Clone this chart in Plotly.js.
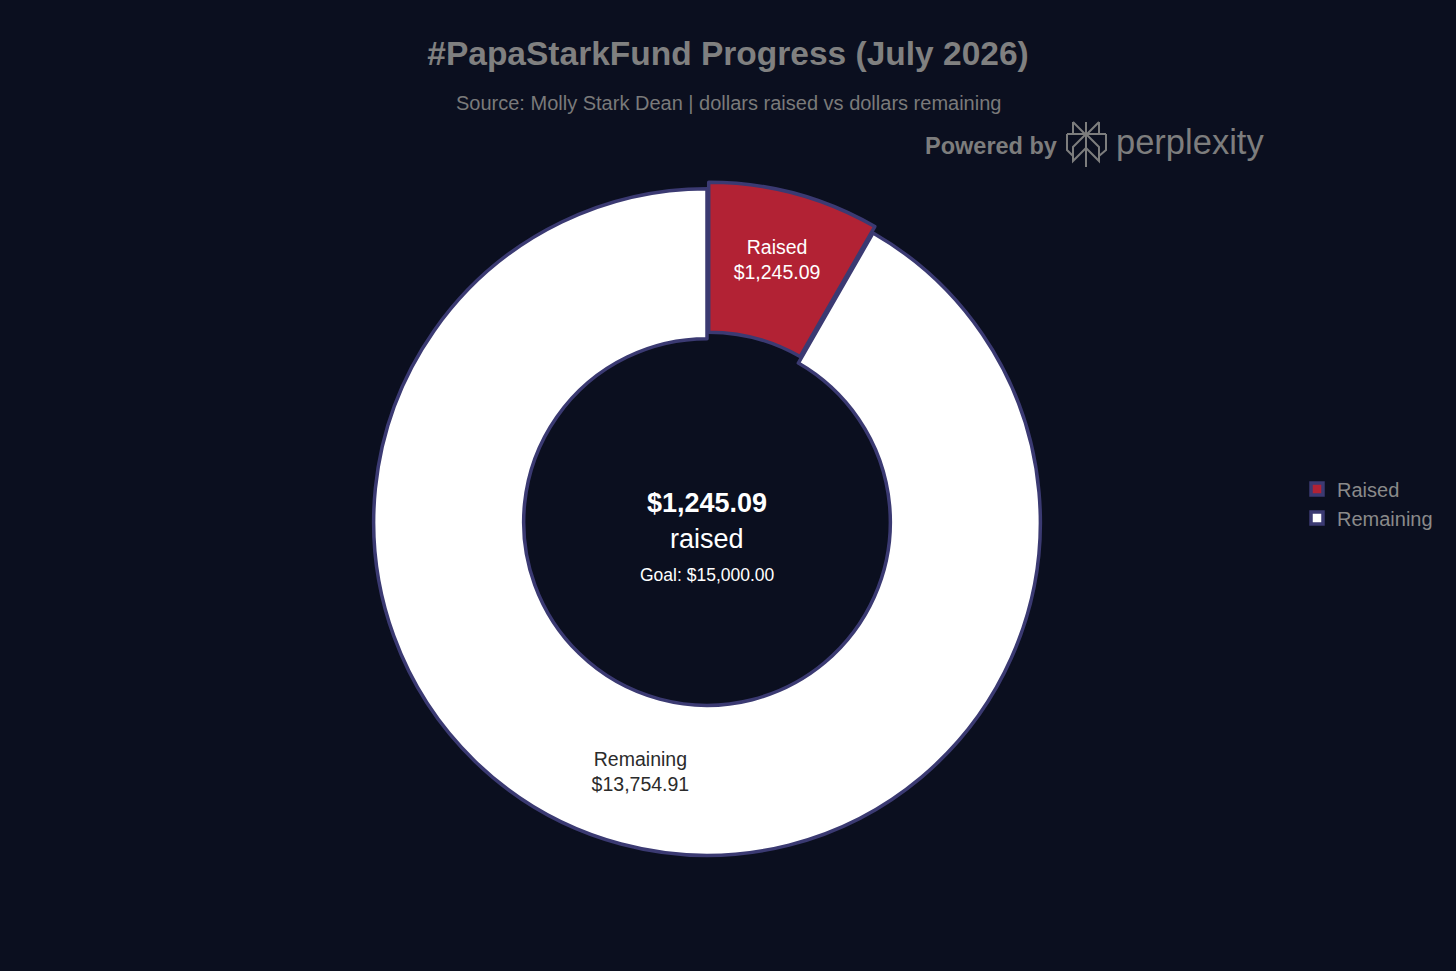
<!DOCTYPE html>
<html>
<head>
<meta charset="utf-8">
<script src="https://cdn.plot.ly/plotly-3.0.1.min.js"></script>
<style>html,body{margin:0;padding:0;background:#0b0f1f;}#chart{width:1456px;height:971px;}</style>
</head>
<body>
<div id="chart"></div>
<script>
var categories = ["Raised", "Remaining"];
var amounts = [1245.09, 13754.91];
var goal = 15000.00;
var sliceColors = ["#b22234", "#ffffff"];
var textColors = ["#ffffff", "#2b2b2b"];

var W = 1456, H = 971;
function px(x){ return x / W; }
function py(y){ return 1 - y / H; }

function fmt(v){
  return "$" + v.toLocaleString("en-US", {minimumFractionDigits: 2, maximumFractionDigits: 2});
}

var FONT = "Liberation Sans, Arial, sans-serif";

var trace = {
  type: "pie",
  labels: categories,
  values: amounts,
  sort: false,
  direction: "clockwise",
  rotation: 0,
  hole: 0.55,
  pull: [0.02, 0],
  marker: { colors: sliceColors, line: { color: "#3b3a72", width: 3.5 } },
  text: amounts.map(fmt),
  texttemplate: "%{label}<br>%{text}",
  textposition: "inside",
  insidetextorientation: "horizontal",
  insidetextfont: { family: FONT, size: 19.5, color: textColors },
  hoverinfo: "label+value",
  domain: { x: [px(707 - 340), px(707 + 340)], y: [py(522 + 340), py(522 - 340)] }
};

// Perplexity logo outline (decorative), pixel polylines
var logoLines = [
  [[1086,122],[1086,167]],
  [[1073,122],[1086,135],[1099,122]],
  [[1073,122],[1073,134]],
  [[1099,122],[1099,134]],
  [[1067,134],[1106,134]],
  [[1067,134],[1067,150],[1073,156]],
  [[1106,134],[1106,150],[1099,156]],
  [[1086,134],[1073,147],[1073,161],[1086,148]],
  [[1086,134],[1099,147],[1099,161],[1086,148]]
];
var shapes = logoLines.map(function(pts){
  var d = pts.map(function(p, i){ return (i ? "L" : "M") + px(p[0]).toFixed(5) + "," + py(p[1]).toFixed(5); }).join(" ");
  return { type: "path", xref: "paper", yref: "paper", path: d, line: { color: "#7d7d7d", width: 2 } };
});

var layout = {
  width: W, height: H,
  paper_bgcolor: "#0b0f1f",
  plot_bgcolor: "#0b0f1f",
  margin: { l: 0, r: 0, t: 0, b: 0 },
  title: {
    text: "<b>#PapaStarkFund Progress (July 2026)</b>",
    font: { family: FONT, size: 33.5, color: "#808080" },
    x: 0.5, xanchor: "center", xref: "paper",
    y: py(53), yanchor: "middle", yref: "container"
  },
  showlegend: true,
  legend: {
    x: px(1297), xanchor: "left",
    y: py(503.5), yanchor: "middle",
    font: { family: FONT, size: 20, color: "#8a8a8a" },
    bgcolor: "rgba(0,0,0,0)"
  },
  shapes: shapes,
  annotations: [
    { text: "Source: Molly Stark Dean | dollars raised vs dollars remaining", xref: "paper", yref: "paper",
      x: 0.5, y: py(103), xanchor: "center", yanchor: "middle", showarrow: false,
      font: { family: FONT, size: 20, color: "#7a7a7a" } },
    { text: "<b>Powered by</b>", xref: "paper", yref: "paper",
      x: px(1059), y: py(146), xanchor: "right", yanchor: "middle", showarrow: false,
      font: { family: FONT, size: 23.5, color: "#7d7d7d" } },
    { text: "perplexity", xref: "paper", yref: "paper",
      x: px(1114), y: py(142), xanchor: "left", yanchor: "middle", showarrow: false,
      font: { family: FONT, size: 34.5, color: "#7d7d7d" } },
    { text: "<b>" + fmt(amounts[0]) + "</b>", xref: "paper", yref: "paper",
      x: px(707), y: py(503), xanchor: "center", yanchor: "middle", showarrow: false,
      font: { family: FONT, size: 27, color: "#ffffff" } },
    { text: "raised", xref: "paper", yref: "paper",
      x: px(707), y: py(539), xanchor: "center", yanchor: "middle", showarrow: false,
      font: { family: FONT, size: 27, color: "#ffffff" } },
    { text: "Goal: " + fmt(goal), xref: "paper", yref: "paper",
      x: px(707), y: py(575), xanchor: "center", yanchor: "middle", showarrow: false,
      font: { family: FONT, size: 17.5, color: "#ffffff" } }
  ]
};

Plotly.newPlot("chart", [trace], layout, { displayModeBar: false, responsive: false });
</script>
</body>
</html>
